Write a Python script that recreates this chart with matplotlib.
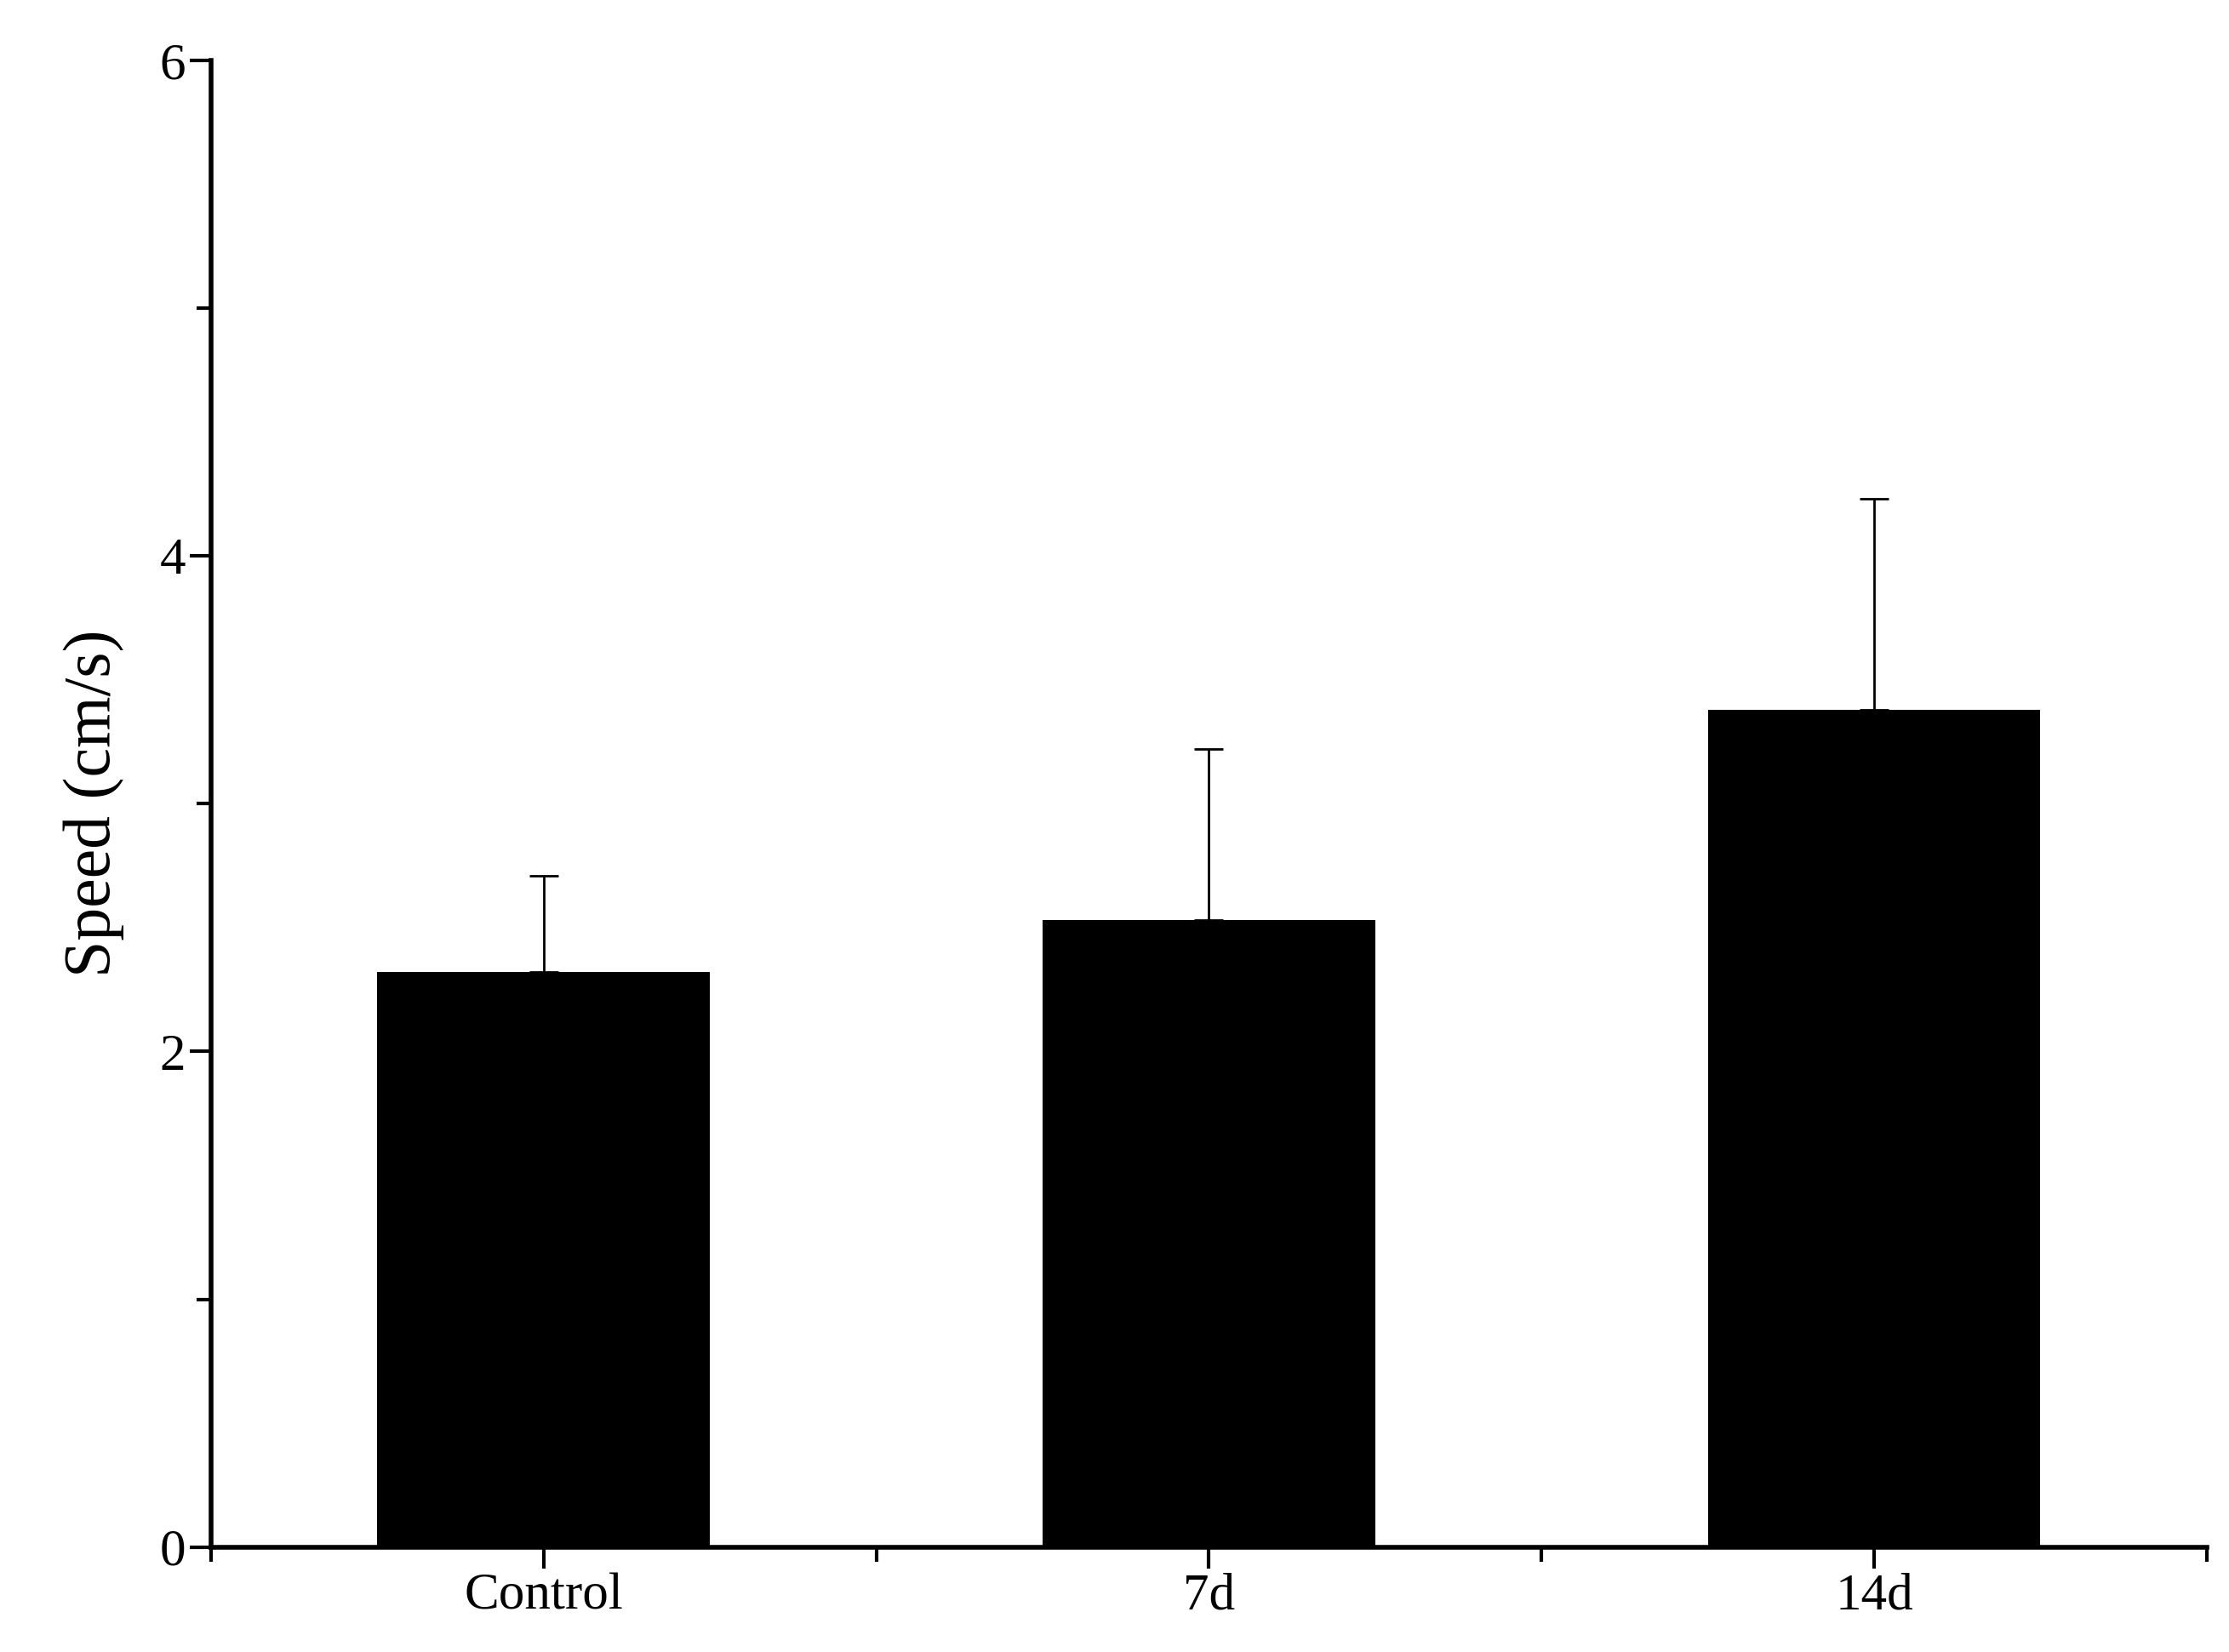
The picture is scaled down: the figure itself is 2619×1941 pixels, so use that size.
import matplotlib.pyplot as plt
import numpy as np
from matplotlib.ticker import MultipleLocator

groups = ['Control', '7d', '14d']
speed = [2.32, 2.53, 3.38]
err = [0.39, 0.69, 0.85]

plt.rcParams['font.family'] = ['Liberation Serif', 'DejaVu Serif']

fig = plt.figure(figsize=(26.19, 19.41), dpi=100)
ax = fig.add_axes([0.0947, 0.0635, 0.8953, 0.9])

x = np.arange(len(groups))
ax.bar(x, speed, width=0.5, color='black', zorder=2)
ax.errorbar(x, speed, yerr=[np.zeros(3), err], fmt='none', ecolor='black',
            elinewidth=2, capsize=12, capthick=2, zorder=1)

ax.set_xlim(-0.5, 2.5)
ax.set_ylim(0, 6)
ax.set_xticks(x)
ax.set_xticklabels(groups)
ax.xaxis.set_minor_locator(MultipleLocator(0.5))
ax.yaxis.set_major_locator(MultipleLocator(2))
ax.yaxis.set_minor_locator(MultipleLocator(1))
for s in ['top', 'right']:
    ax.spines[s].set_visible(False)
for s in ['left', 'bottom']:
    ax.spines[s].set_linewidth(4)
ax.tick_params(which='major', length=18, width=3, labelsize=44, direction='out')
ax.tick_params(which='minor', length=12, width=3, direction='out')
ax.set_ylabel('Speed (cm/s)', fontsize=56, labelpad=30)

fig.savefig('out.png', dpi=100)
